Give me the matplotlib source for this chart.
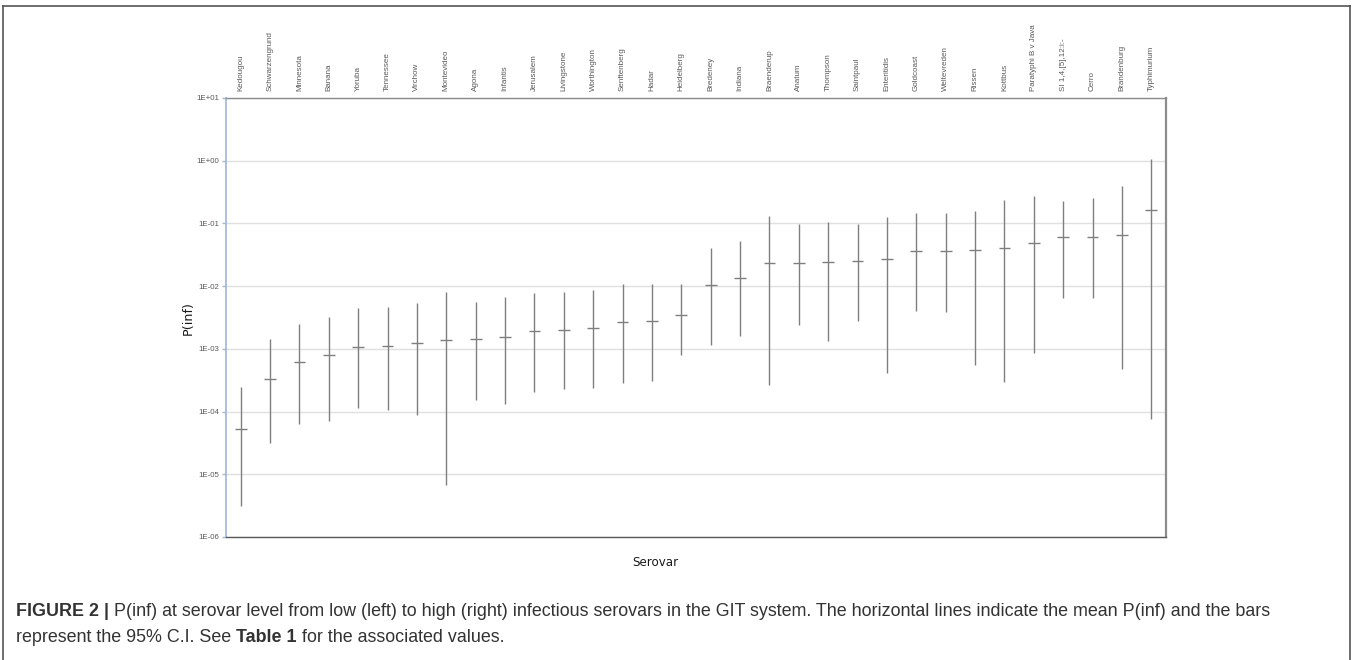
import matplotlib
matplotlib.use("Agg")
import matplotlib.pyplot as plt
import numpy as np

serovars = ["Kedougou", "Schwarzengrund", "Minnesota", "Banana", "Yoruba", "Tennessee",
            "Virchow", "Montevideo", "Agona", "Infantis", "Jerusalem", "Livingstone",
            "Worthington", "Senftenberg", "Hadar", "Heidelberg", "Bredeney", "Indiana",
            "Braenderup", "Anatum", "Thompson", "Saintpaul", "Enteritidis", "Goldcoast",
            "Weltevreden", "Rissen", "Kottbus", "Paratyphi B v Java", "SI 1,4,[5],12:i:-",
            "Cerro", "Brandenburg", "Typhimurium"]

mean_p = [5.2e-5, 3.3e-4, 6.2e-4, 7.9e-4, 1.08e-3, 1.11e-3, 1.22e-3, 1.37e-3,
          1.42e-3, 1.56e-3, 1.9e-3, 1.97e-3, 2.12e-3, 2.65e-3, 2.75e-3, 3.42e-3,
          1.03e-2, 1.35e-2, 2.31e-2, 2.37e-2, 2.43e-2, 2.52e-2, 2.71e-2, 3.59e-2,
          3.67e-2, 3.72e-2, 4.06e-2, 4.81e-2, 6.0e-2, 6.15e-2, 6.46e-2, 0.164]

lower_ci = [3.15e-6, 3.15e-5, 6.25e-5, 7.1e-5, 1.15e-4, 1.07e-4, 8.9e-5, 6.7e-6,
            1.51e-4, 1.30e-4, 2.03e-4, 2.26e-4, 2.37e-4, 2.88e-4, 3.1e-4, 7.9e-4,
            1.15e-3, 1.58e-3, 2.68e-4, 2.43e-3, 1.35e-3, 2.75e-3, 4.07e-4, 4.06e-3,
            3.9e-3, 5.58e-4, 3.0e-4, 8.7e-4, 6.38e-3, 6.38e-3, 4.71e-4, 7.7e-5]

upper_ci = [2.46e-4, 1.42e-3, 2.49e-3, 3.18e-3, 4.43e-3, 4.7e-3, 5.3e-3, 8.06e-3,
            5.58e-3, 6.8e-3, 7.87e-3, 8.06e-3, 8.57e-3, 1.07e-2, 1.08e-2, 1.08e-2,
            4.0e-2, 5.25e-2, 0.13, 9.66e-2, 0.107, 9.66e-2, 0.125, 0.147,
            0.148, 0.16, 0.234, 0.27, 0.228, 0.251, 0.395, 1.06]

ytick_values = [1e-6, 1e-5, 1e-4, 1e-3, 1e-2, 1e-1, 1e0, 1e1]
ytick_labels = ["1E-06", "1E-05", "1E-04", "1E-03", "1E-02", "1E-01", "1E+00", "1E+01"]

W, H = 1352, 660
fig = plt.figure(figsize=(W / 100, H / 100), dpi=100)
ax = fig.add_axes([226 / W, 1 - 537 / H, (1166 - 226) / W, (537 - 98) / H])

x = np.arange(len(serovars))
line_col = "#7f7f7f"
ax.vlines(x, lower_ci, upper_ci, color=line_col, lw=1.0, zorder=3)
ax.hlines(mean_p, x - 0.2, x + 0.2, color=line_col, lw=1.0, zorder=3)

ax.set_yscale("log")
ax.set_ylim(1e-6, 1e1)
ax.set_xlim(-0.5, len(serovars) - 0.5)
ax.set_yticks(ytick_values)
ax.set_yticklabels(ytick_labels)
ax.yaxis.set_minor_locator(matplotlib.ticker.NullLocator())
ax.tick_params(axis="y", which="major", length=3, width=1, color="#9fb5d9",
               labelsize=5.7, labelcolor="#595959", pad=2)
for lab in ax.get_yticklabels():
    lab.set_family("Liberation Sans")

ax.xaxis.tick_top()
ax.set_xticks(x)
ax.set_xticklabels(serovars, rotation=90, fontsize=5.8, color="#595959",
                   family="Liberation Sans", va="bottom", ha="center")
ax.tick_params(axis="x", length=0, pad=5)

ax.grid(axis="y", which="major", color="#e0e0e0", lw=1.0, zorder=0)
ax.set_axisbelow(True)

ax.spines["left"].set_color("#9fb5d9")
ax.spines["left"].set_linewidth(1.2)
ax.spines["bottom"].set_color("#595959")
ax.spines["bottom"].set_linewidth(1.0)
ax.spines["top"].set_color("#8c8c8c")
ax.spines["top"].set_linewidth(1.0)
ax.spines["right"].set_color("#8c8c8c")
ax.spines["right"].set_linewidth(1.6)

fig.text(188 / W, 1 - 318 / H, "P(inf)", fontsize=9.2, color="#1a1a1a",
         rotation=90, ha="center", va="center")
fig.text(655 / W, 1 - 562 / H, "Serovar", fontsize=8.6, color="#1a1a1a",
         ha="center", va="center")

# outer frame
frame_col = "#555555"
fig.add_artist(plt.Line2D([3 / W, 3 / W], [0, 1 - 6 / H], transform=fig.transFigure,
                          color=frame_col, lw=1.2))
fig.add_artist(plt.Line2D([3 / W, 1350 / W], [1 - 6 / H, 1 - 6 / H], transform=fig.transFigure,
                          color=frame_col, lw=1.2))
fig.add_artist(plt.Line2D([1350 / W, 1350 / W], [0, 1 - 6 / H], transform=fig.transFigure,
                          color=frame_col, lw=1.2))

# caption with mixed bold segments
cap_fs = 12.9
cap_col = "#333333"
cap_family = "Liberation Sans"
lines = [
    [("FIGURE 2 | ", "bold"),
     ("P(inf) at serovar level from low (left) to high (right) infectious serovars in the GIT system. "
      "The horizontal lines indicate the mean P(inf) and the bars", "normal")],
    [("represent the 95% C.I. See ", "normal"), ("Table 1", "bold"),
     (" for the associated values.", "normal")],
]
line_y = [612, 637]
renderer = fig.canvas.get_renderer()
for segs, yy in zip(lines, line_y):
    xpix = 16
    for txt, wt in segs:
        t = fig.text(xpix / W, 1 - yy / H, txt, fontsize=cap_fs, color=cap_col,
                     family=cap_family, weight=wt, ha="left", va="center")
        bb = t.get_window_extent(renderer=renderer)
        xpix += bb.width

fig.savefig("out.png", dpi=100)
